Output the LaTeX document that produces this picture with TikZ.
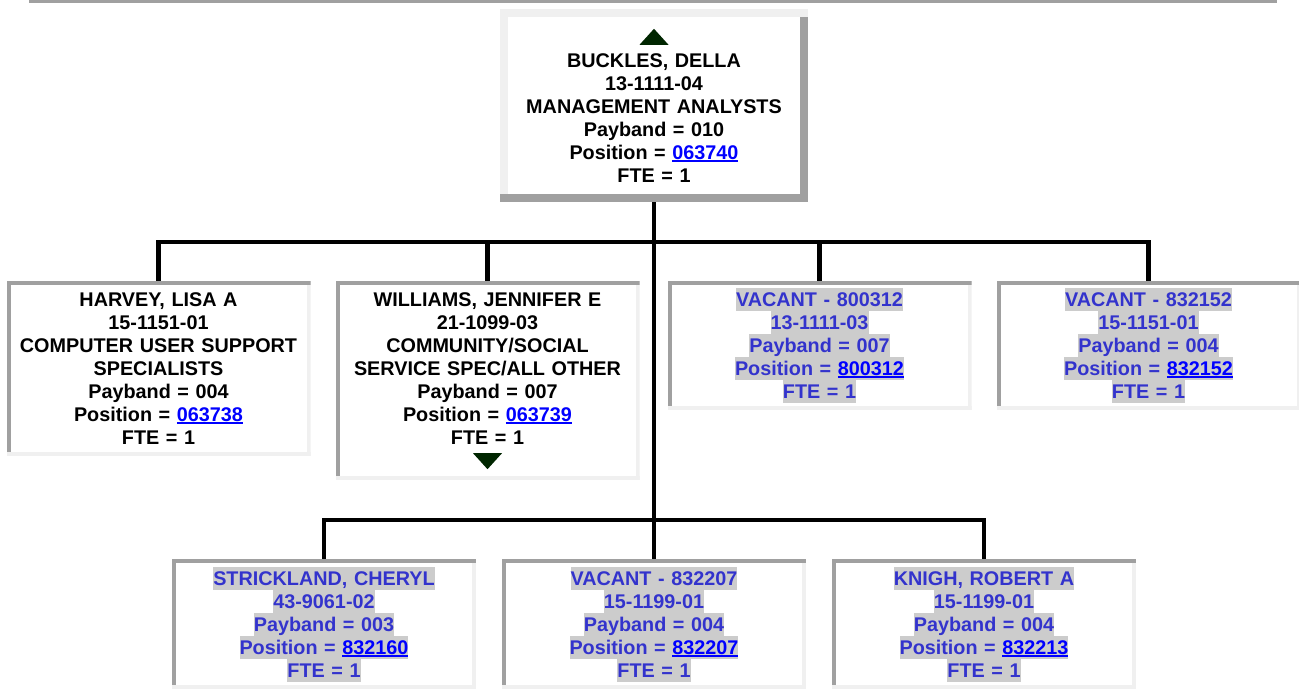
\documentclass[tikz,border=0pt]{standalone}
\usepackage{fontspec}
\setmainfont{Liberation Sans}
\definecolor{edgedark}{RGB}{160,160,160}
\definecolor{edgelight}{RGB}{240,240,240}
\definecolor{vacantblue}{RGB}{51,51,204}
\definecolor{markgray}{RGB}{204,204,204}
\definecolor{linkblue}{RGB}{0,0,255}
\definecolor{arrowgreen}{RGB}{0,38,0}

\setlength{\fboxsep}{0pt}
\newcommand{\rowstrut}{\rule[-4.5pt]{0pt}{23pt}}
\newcommand{\poslink}[1]{{\color{linkblue}\setbox0\hbox{#1}\rlap{\rule[-2.6pt]{\wd0}{1.8pt}}\box0}}
\newcommand{\vacline}[1]{\colorbox{markgray}{\rowstrut#1}}

\begin{document}
\begin{tikzpicture}[
  x=1pt, y=-1pt,
  every node/.style={font=\fontsize{19.8}{23}\selectfont\bfseries, align=center, inner sep=0pt},
  mgrbox/.style={
    fill=white,
    minimum width=308pt,
    text width=290pt,
    path picture={
      \fill[edgelight] (path picture bounding box.north west) rectangle ([yshift=-8pt]path picture bounding box.north east);
      \fill[edgelight] (path picture bounding box.south west) rectangle ([xshift=8pt]path picture bounding box.north west);
      \fill[edgedark] ([xshift=-8pt,yshift=-8pt]path picture bounding box.north east) rectangle (path picture bounding box.south east);
      \fill[edgedark] (path picture bounding box.south west) rectangle ([yshift=8pt]path picture bounding box.south east);
    }
  },
  staffbox/.style={
    fill=white,
    minimum width=304pt,
    text width=294pt,
    path picture={
      \fill[edgelight] (path picture bounding box.south west) rectangle ([yshift=4pt]path picture bounding box.south east);
      \fill[edgelight] ([xshift=-4pt]path picture bounding box.south east) rectangle (path picture bounding box.north east);
      \fill[edgedark] (path picture bounding box.north west) rectangle ([yshift=-4pt]path picture bounding box.north east);
      \fill[edgedark] ([yshift=4pt]path picture bounding box.south west) rectangle ([xshift=4pt]path picture bounding box.north west);
    }
  },
  vacantbox/.style={staffbox, text=vacantblue},
  conn/.style={line width=4.5pt, line join=miter},
  uptri/.pic={\fill[arrowgreen] (-14.5,8) -- (14.5,8) -- (0,-8) -- cycle;},
  downtri/.pic={\fill[arrowgreen] (-14.5,-8) -- (14.5,-8) -- (0,8) -- cycle;}
]
\useasboundingbox (0,0) rectangle (1299,698);

% header rule
\draw[edgedark, line width=3pt] (29,1.5) -- (1277,1.5);

% manager
\node[mgrbox, minimum height=193pt] (mgr) at (654,105.5)
  {\rule{0pt}{19.7pt}\\BUCKLES, DELLA\\13-1111-04\\MANAGEMENT ANALYSTS\\Payband = 010\\Position = \poslink{063740}\\FTE = 1\rowstrut};
\pic at ([yshift=-28pt]mgr.north) {uptri};

% first row
\node[staffbox, minimum height=175pt] (harvey) at (158.5,368.5)
  {\rowstrut HARVEY, LISA A\\15-1151-01\\COMPUTER USER SUPPORT\\SPECIALISTS\\Payband = 004\\Position = \poslink{063738}\\FTE = 1\rowstrut};

\node[staffbox, minimum height=199pt] (williams) at (487.5,380.5)
  {\rowstrut WILLIAMS, JENNIFER E\\21-1099-03\\COMMUNITY/SOCIAL\\SERVICE SPEC/ALL OTHER\\Payband = 007\\Position = \poslink{063739}\\FTE = 1\\\rule[-6.5pt]{0pt}{17pt}};
\pic at ([yshift=19pt]williams.south) {downtri};

\node[vacantbox, minimum height=129pt] (vac800312) at (819.5,345.5)
  {\vacline{VACANT - 800312}\\\vacline{13-1111-03}\\\vacline{Payband = 007}\\\vacline{Position = \poslink{800312}}\\\vacline{FTE = 1}};

\node[vacantbox, minimum height=129pt] (vac832152) at (1148.5,345.5)
  {\vacline{VACANT - 832152}\\\vacline{15-1151-01}\\\vacline{Payband = 004}\\\vacline{Position = \poslink{832152}}\\\vacline{FTE = 1}};

% second row
\node[vacantbox, minimum height=130pt] (strickland) at (324,624)
  {\vacline{STRICKLAND, CHERYL}\\\vacline{43-9061-02}\\\vacline{Payband = 003}\\\vacline{Position = \poslink{832160}}\\\vacline{FTE = 1}};

\node[vacantbox, minimum height=130pt] (vac832207) at (654,624)
  {\vacline{VACANT - 832207}\\\vacline{15-1199-01}\\\vacline{Payband = 004}\\\vacline{Position = \poslink{832207}}\\\vacline{FTE = 1}};

\node[vacantbox, minimum height=130pt] (knigh) at (984,624)
  {\vacline{KNIGH, ROBERT A}\\\vacline{15-1199-01}\\\vacline{Payband = 004}\\\vacline{Position = \poslink{832213}}\\\vacline{FTE = 1}};

% connectors
\coordinate (bus1) at (654,242);
\coordinate (bus2) at (654,520);
\draw[conn] (mgr.south) -- (bus2);
\draw[conn] (harvey.north) |- (bus1) -| (vac832152.north);
\draw[conn] (williams.north) -- (williams.north |- bus1);
\draw[conn] (vac800312.north) -- (vac800312.north |- bus1);
\draw[conn] (strickland.north) |- (bus2) -| (knigh.north);
\draw[conn] (bus2) -- (vac832207.north);

\end{tikzpicture}
\end{document}
